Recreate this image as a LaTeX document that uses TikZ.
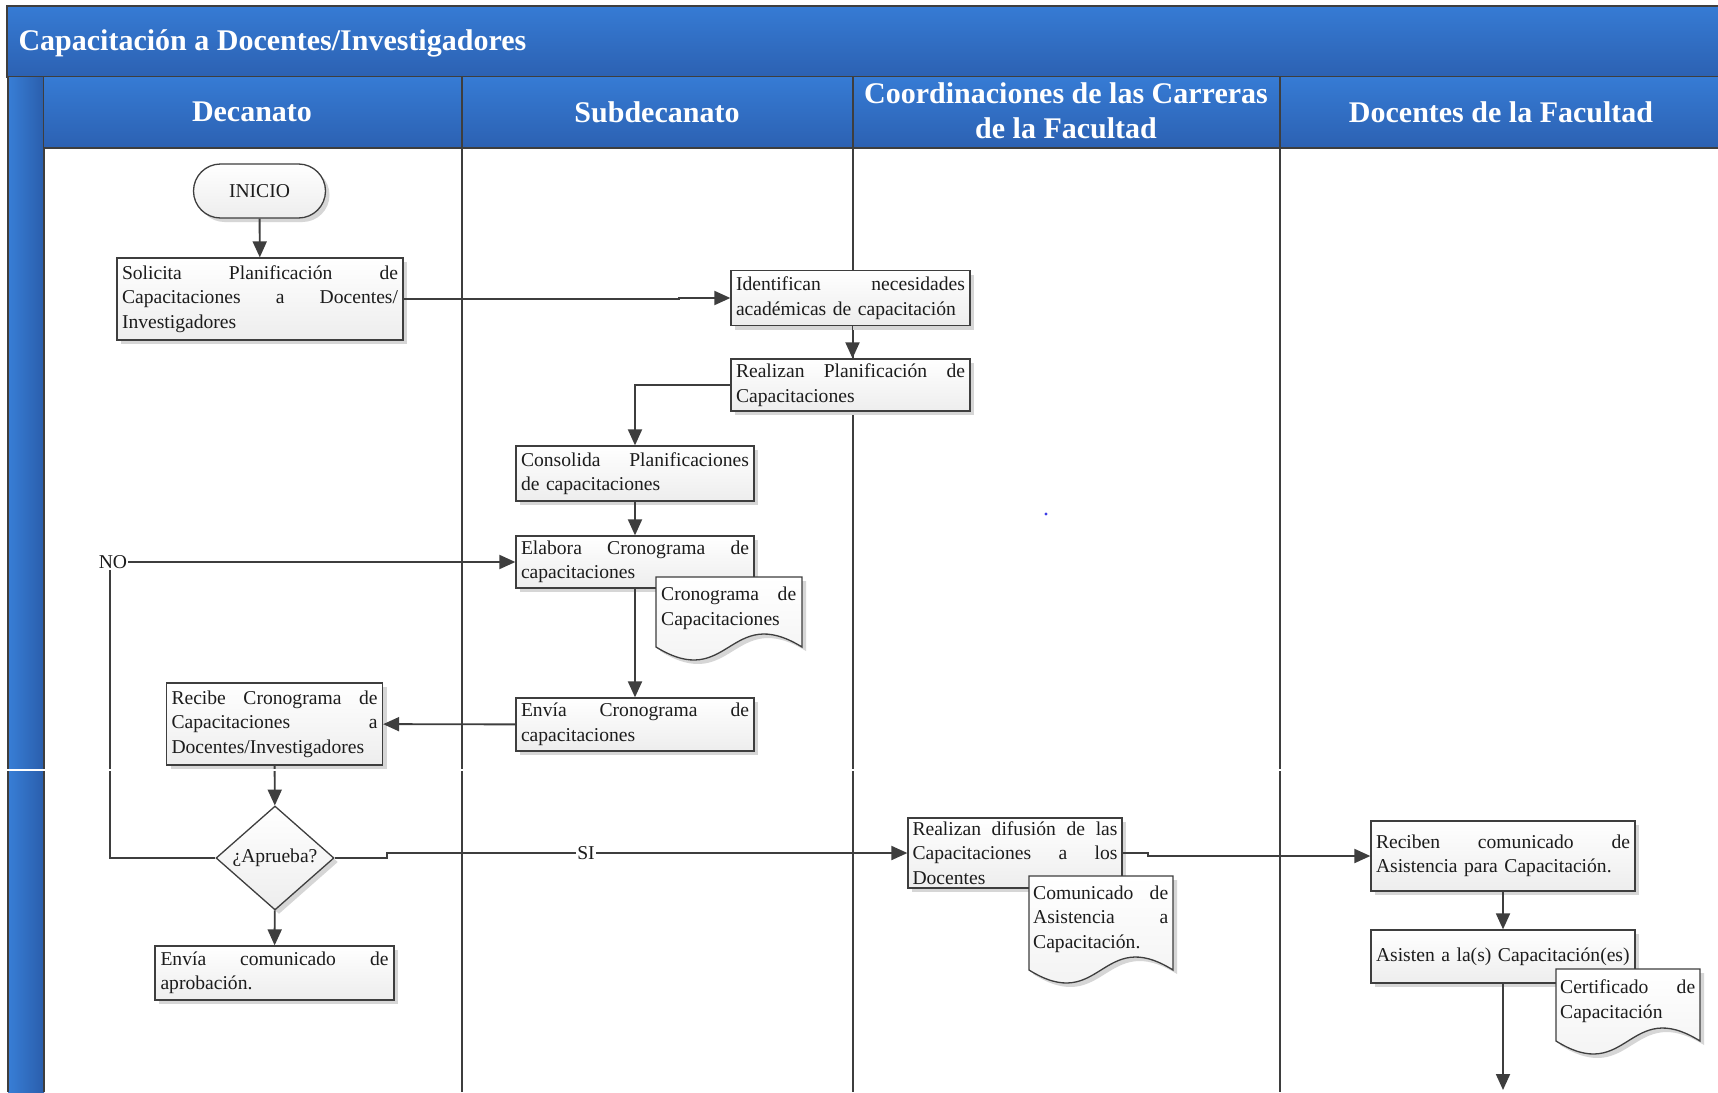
\documentclass[tikz,border=0pt]{standalone}
\usepackage{fontspec}
\setmainfont{Liberation Serif}
\usetikzlibrary{shapes.geometric,shadows,arrows.meta,calc}

\definecolor{bandtop}{RGB}{54,123,212}
\definecolor{bandbot}{RGB}{44,97,178}
\definecolor{barleft}{RGB}{56,126,214}
\definecolor{barright}{RGB}{42,94,172}
\definecolor{edge}{RGB}{62,62,62}
\definecolor{ink}{RGB}{28,28,28}
\definecolor{shadowgray}{RGB}{214,214,214}
\definecolor{dotblue}{RGB}{60,60,230}

\lefthyphenmin=64
\hbadness=10000
% one justified line of a box text: width, words
\newcommand\jl[2]{\noindent\hbox to #1{\spaceskip=0.25em plus 1fil\relax #2}}

% document symbol: left x, top y, right x, y of the wavy edge
\newcommand\docshape[4]{%
  \fill[shadowgray] (#1+4,#2+4) -- (#3+4,#2+4) -- (#3+4,#4+4)
    .. controls ({(#1+#3)/2+4},{#4-41}) and ({(#1+#3)/2+4},{#4+49}) .. (#1+4,#4+4) -- cycle;
  \draw[docframe] (#1,#2) -- (#3,#2) -- (#3,#4)
    .. controls ({(#1+#3)/2},{#4-45}) and ({(#1+#3)/2},{#4+45}) .. (#1,#4) -- cycle;}

\begin{document}
\begin{tikzpicture}[x=1pt,y=-1pt,
  every node/.style={font=\fontsize{19.6}{24.5}\selectfont, text=ink},
  laneline/.style={draw=edge, line width=1.5pt},
  head/.style={text=white, font=\fontsize{30}{35}\selectfont\bfseries, align=center},
  procbox/.style={draw=edge, line width=1.3pt, rectangle, top color=white, bottom color=black!7,
    drop shadow={shadow xshift=4pt, shadow yshift=-4pt, fill=shadowgray, opacity=1},
    inner sep=0pt, align=left},
  term/.style={draw=edge, line width=1.3pt, rectangle, rounded corners=27pt,
    top color=white, bottom color=black!7, minimum width=132pt, minimum height=54pt,
    drop shadow={shadow xshift=4pt, shadow yshift=-4pt, fill=shadowgray, opacity=1}},
  decision/.style={draw=edge, line width=1.3pt, diamond, aspect=1.13, inner sep=1pt,
    top color=white, bottom color=black!7, minimum width=118pt, minimum height=104pt,
    drop shadow={shadow xshift=4pt, shadow yshift=-4pt, fill=shadowgray, opacity=1}},
  docframe/.style={draw=edge, line width=1.3pt, top color=white, bottom color=black!6},
  doctext/.style={anchor=north west, inner sep=0pt, align=left},
  arr/.style={draw=edge, line width=1.9pt, -{Triangle[length=16pt,width=14pt]}},
  plain/.style={draw=edge, line width=1.9pt}
]
\useasboundingbox (0,0) rectangle (1718,1092);
\fill[white] (0,0) rectangle (1718,1092);

% ---- swimlane frame ----
\shade[top color=bandtop, bottom color=bandbot] (7,6) rectangle (1718,77);
\draw[laneline] (1718,6) -- (7,6) -- (7,77) -- (1718,77);
\shade[left color=barleft, right color=barright] (8,77) rectangle (44,1092);
\draw[laneline] (8,77) -- (8,1092);
\draw[laneline] (44,77) -- (44,1092);
\shade[top color=bandtop, bottom color=bandbot] (44,77) rectangle (1718,148);
\draw[laneline] (44,148) -- (1718,148);
\foreach \lx in {462,853,1280} \draw[laneline] (\lx,77) -- (\lx,1092);

\node[head, anchor=west] (title) at (15,43) {Capacitación a Docentes/Investigadores};
\node[head] (hdec) at (252,112) {Decanato};
\node[head] (hsub) at (657,112) {Subdecanato};
\node[head] (hcoo) at (1066,111) {Coordinaciones de las Carreras\\de la Facultad};
\node[head] (hdoc) at (1501,112) {Docentes de la Facultad};

\fill[dotblue] (1046,514) circle (1.6);

% ---- steps ----
\node[term] (ini) at (259.5,191) {INICIO};
\node[procbox, minimum width=286pt, minimum height=82pt, text width=276pt] (sol) at (260,299)
  {\jl{276pt}{Solicita Planificación de}\\\jl{276pt}{Capacitaciones a Docentes/}\\Investigadores};
\node[procbox, minimum width=239pt, minimum height=55pt, text width=229pt] (ide) at (850.5,298)
  {\jl{229pt}{Identifican necesidades}\\académicas de capacitación};
\node[procbox, minimum width=239pt, minimum height=52pt, text width=229pt] (rea) at (850.5,385)
  {\jl{229pt}{Realizan Planificación de}\\Capacitaciones};
\node[procbox, minimum width=238pt, minimum height=55pt, text width=228pt] (con) at (635,473.5)
  {\jl{228pt}{Consolida Planificaciones}\\de capacitaciones};
\node[procbox, minimum width=238pt, minimum height=52pt, text width=228pt] (ela) at (635,562)
  {\jl{228pt}{Elabora Cronograma de}\\capacitaciones};
\node[procbox, minimum width=238pt, minimum height=53pt, text width=228pt] (env) at (635,724.5)
  {\jl{228pt}{Envía Cronograma de}\\capacitaciones};
\node[procbox, minimum width=216pt, minimum height=82pt, text width=206pt] (rec) at (274.5,724)
  {\jl{206pt}{Recibe Cronograma de}\\\jl{206pt}{Capacitaciones a}\\Docentes/Investigadores};
\node[decision] (dia) at (275,858) {¿Aprueba?};
\node[procbox, minimum width=239pt, minimum height=54pt, text width=228pt] (eco) at (274.5,973)
  {\jl{228pt}{Envía comunicado de}\\aprobación.};
\node[procbox, minimum width=214pt, minimum height=70pt, text width=205pt] (dif) at (1015,853)
  {\jl{205pt}{Realizan difusión de las}\\\jl{205pt}{Capacitaciones a los}\\Docentes};
\node[procbox, minimum width=264pt, minimum height=70pt, text width=254pt] (rcb) at (1503,856)
  {\jl{254pt}{Reciben comunicado de}\\Asistencia para Capacitación.};
\node[procbox, minimum width=264pt, minimum height=53pt, text width=254pt] (asi) at (1503,956.5)
  {Asisten a la(s) Capacitación(es)};
\coordinate (fin) at (1503,1090);

% ---- documents, lying over the steps they come from ----
\docshape{656}{577}{802}{647}
\docshape{1029}{876}{1173}{970}
\docshape{1556}{969}{1700}{1041}
\node[doctext, text width=135pt] (crono) at (661,587) {\jl{135pt}{Cronograma de}\\Capacitaciones};
\node[doctext, text width=135pt] (comun) at (1033,885.5) {\jl{135pt}{Comunicado de}\\\jl{135pt}{Asistencia a}\\Capacitación.};
\node[doctext, text width=135pt] (certi) at (1560,979.5) {\jl{135pt}{Certificado de}\\Capacitación};

% ---- branch labels ----
\node[inner sep=1pt] (no) at (113,562) {NO};
\node[inner sep=1pt] (si) at (586,853) {SI};

% ---- connectors ----
\draw[arr] (ini) -- (sol);
\draw[arr] (sol.east) -| ([xshift=-51pt]ide.west) -- (ide.west);
\draw[arr] ([xshift=2pt]ide.south) -- ([xshift=2pt]rea.north);
\draw[arr] (rea.west) -| (con.north);
\draw[arr] (con) -- (ela);
\draw[arr] (ela) -- (env);
\draw[arr] (env) -- (rec);
\draw[arr] (rec) -- (dia);
\draw[arr] (dia) -- (eco);
\draw[plain] (dia.west) -| ([xshift=-3pt]no.south);
\draw[arr] (no.east) -- (ela.west);
\draw[plain] (dia.east) -- ++(52,0) |- (si.west);
\draw[arr] (si.east) -- (dif.west);
\draw[arr] (dif.east) -- ++(25,0) |- (rcb.west);
\draw[arr] (rcb) -- (asi);
\draw[arr] (asi) -- (fin);

% ---- break between the two phases ----
\draw[white, line width=2.5pt] (0,770) -- (1718,770);
\end{tikzpicture}
\end{document}
